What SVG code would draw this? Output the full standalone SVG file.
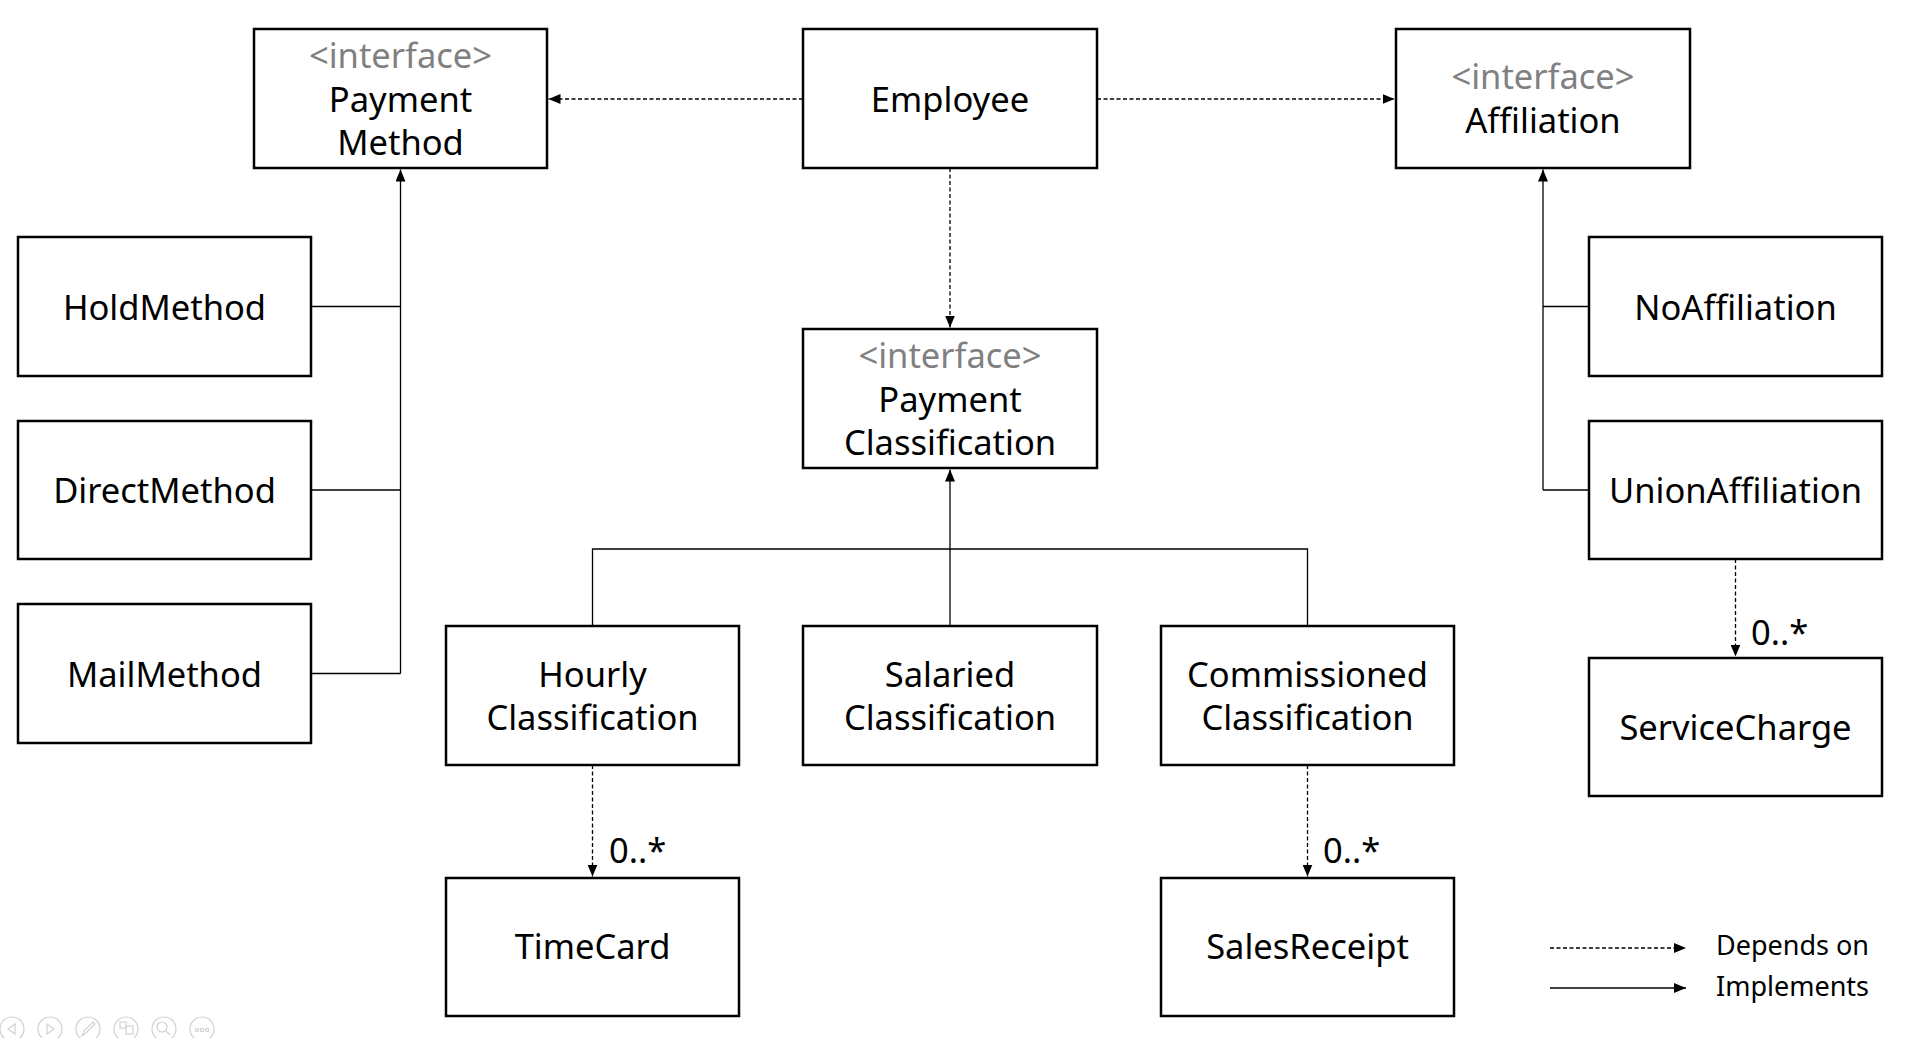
<svg xmlns="http://www.w3.org/2000/svg" width="1906" height="1038" viewBox="0 0 1906 1038">
<style>
  .box { fill: #ffffff; stroke: #000000; stroke-width: 2.5; }
  .lbl { font-family: "Noto Sans", "Open Sans", "DejaVu Sans", sans-serif; font-size: 34.5px; fill: #000000; text-anchor: middle; }
  .ster { fill: #808080; }
  .mult { font-family: "Noto Sans", "Open Sans", "DejaVu Sans", sans-serif; font-size: 34.5px; fill: #000000; }
  .leg { font-family: "Noto Sans", "Open Sans", "DejaVu Sans", sans-serif; font-size: 27px; fill: #000000; }
  .dep { fill: none; stroke: #000000; stroke-width: 1.3; stroke-dasharray: 4 2.5; marker-end: url(#arrow); }
  .impl { fill: none; stroke: #000000; stroke-width: 1.3; }
  .implA { fill: none; stroke: #000000; stroke-width: 1.3; marker-end: url(#arrow); }
  .ui { fill: none; stroke: #d2d2d2; stroke-width: 1.2; }
</style>
<defs>
  <marker id="arrow" markerUnits="userSpaceOnUse" markerWidth="12" markerHeight="10" refX="12" refY="5" orient="auto">
    <path d="M0,0 L12,5 L0,10 z" fill="#000000"/>
  </marker>
</defs>
<rect width="1906" height="1038" fill="#ffffff"/>

<g id="connectors">
  <!-- dependencies -->
  <line class="dep" x1="803" y1="99" x2="548.5" y2="99"/>
  <line class="dep" x1="1097" y1="99" x2="1394.5" y2="99"/>
  <line class="dep" x1="950" y1="168" x2="950" y2="327.5"/>
  <line class="dep" x1="592.5" y1="765" x2="592.5" y2="876.5"/>
  <line class="dep" x1="1307.5" y1="765" x2="1307.5" y2="876.5"/>
  <line class="dep" x1="1735.5" y1="559" x2="1735.5" y2="656.5"/>
  <!-- implements: payment method -->
  <line class="implA" x1="400.5" y1="673.5" x2="400.5" y2="169.5"/>
  <polyline class="impl" points="311,306.5 400.5,306.5"/>
  <polyline class="impl" points="311,490 400.5,490"/>
  <polyline class="impl" points="311,673.5 400.5,673.5"/>
  <!-- implements: affiliation -->
  <line class="implA" x1="1543" y1="490" x2="1543" y2="169.5"/>
  <polyline class="impl" points="1543,306.5 1589,306.5"/>
  <polyline class="impl" points="1543,490 1589,490"/>
  <!-- implements: payment classification -->
  <line class="implA" x1="950" y1="626" x2="950" y2="469.5"/>
  <polyline class="impl" points="592.5,626 592.5,549 1307.5,549 1307.5,626"/>
  <!-- multiplicities -->
  <text class="mult" x="609" y="863">0..*</text>
  <text class="mult" x="1323" y="863">0..*</text>
  <text class="mult" x="1751" y="645">0..*</text>
</g>

<g id="PaymentMethod">
  <rect class="box" x="254" y="29" width="293" height="139"/>
  <text class="lbl ster" x="400.5" y="68">&lt;interface&gt;</text>
  <text class="lbl" x="400.5" y="112">Payment</text>
  <text class="lbl" x="400.5" y="155">Method</text>
</g>
<g id="Employee">
  <rect class="box" x="803" y="29" width="294" height="139"/>
  <text class="lbl" x="950" y="111.5">Employee</text>
</g>
<g id="Affiliation">
  <rect class="box" x="1396" y="29" width="294" height="139"/>
  <text class="lbl ster" x="1543" y="88.5">&lt;interface&gt;</text>
  <text class="lbl" x="1543" y="133">Affiliation</text>
</g>
<g id="HoldMethod">
  <rect class="box" x="18" y="237" width="293" height="139"/>
  <text class="lbl" x="164.5" y="319.5">HoldMethod</text>
</g>
<g id="DirectMethod">
  <rect class="box" x="18" y="421" width="293" height="138"/>
  <text class="lbl" x="164.5" y="503">DirectMethod</text>
</g>
<g id="MailMethod">
  <rect class="box" x="18" y="604" width="293" height="139"/>
  <text class="lbl" x="164.5" y="686.5">MailMethod</text>
</g>
<g id="PaymentClassification">
  <rect class="box" x="803" y="329" width="294" height="139"/>
  <text class="lbl ster" x="950" y="368">&lt;interface&gt;</text>
  <text class="lbl" x="950" y="412">Payment</text>
  <text class="lbl" x="950" y="455">Classification</text>
</g>
<g id="NoAffiliation">
  <rect class="box" x="1589" y="237" width="293" height="139"/>
  <text class="lbl" x="1735.5" y="319.5">NoAffiliation</text>
</g>
<g id="UnionAffiliation">
  <rect class="box" x="1589" y="421" width="293" height="138"/>
  <text class="lbl" x="1735.5" y="503">UnionAffiliation</text>
</g>
<g id="ServiceCharge">
  <rect class="box" x="1589" y="658" width="293" height="138"/>
  <text class="lbl" x="1735.5" y="739.5">ServiceCharge</text>
</g>
<g id="HourlyClassification">
  <rect class="box" x="446" y="626" width="293" height="139"/>
  <text class="lbl" x="592.5" y="687">Hourly</text>
  <text class="lbl" x="592.5" y="730">Classification</text>
</g>
<g id="SalariedClassification">
  <rect class="box" x="803" y="626" width="294" height="139"/>
  <text class="lbl" x="950" y="687">Salaried</text>
  <text class="lbl" x="950" y="730">Classification</text>
</g>
<g id="CommissionedClassification">
  <rect class="box" x="1161" y="626" width="293" height="139"/>
  <text class="lbl" x="1307.5" y="687">Commissioned</text>
  <text class="lbl" x="1307.5" y="730">Classification</text>
</g>
<g id="TimeCard">
  <rect class="box" x="446" y="878" width="293" height="138"/>
  <text class="lbl" x="592.5" y="959">TimeCard</text>
</g>
<g id="SalesReceipt">
  <rect class="box" x="1161" y="878" width="293" height="138"/>
  <text class="lbl" x="1307.5" y="959">SalesReceipt</text>
</g>

<g id="legend">
  <line class="dep" x1="1550" y1="948" x2="1686" y2="948"/>
  <line class="implA" x1="1550" y1="988" x2="1686" y2="988"/>
  <text class="leg" x="1716" y="955">Depends on</text>
  <text class="leg" x="1716" y="996">Implements</text>
</g>

<g id="toolbar">
  <circle class="ui" cx="12" cy="1029" r="12"/>
  <path class="ui" d="M15,1024 L8,1029 L15,1034 z"/>
  <circle class="ui" cx="50" cy="1029" r="12"/>
  <path class="ui" d="M47,1024 L54,1029 L47,1034 z"/>
  <circle class="ui" cx="88" cy="1029" r="12"/>
  <path class="ui" d="M82,1036 L84,1031 L93,1022 L95,1024 L86,1033 z"/>
  <circle class="ui" cx="126" cy="1029" r="12"/>
  <rect class="ui" x="120" y="1022" width="6" height="6"/>
  <rect class="ui" x="126" y="1026" width="7" height="8"/>
  <circle class="ui" cx="164" cy="1029" r="12"/>
  <circle class="ui" cx="162" cy="1027" r="5"/>
  <path class="ui" d="M166,1031 L170,1035"/>
  <circle class="ui" cx="202" cy="1029" r="12"/>
  <circle class="ui" cx="197" cy="1030" r="1.6"/>
  <circle class="ui" cx="202" cy="1030" r="1.6"/>
  <circle class="ui" cx="207" cy="1030" r="1.6"/>
</g>
</svg>
